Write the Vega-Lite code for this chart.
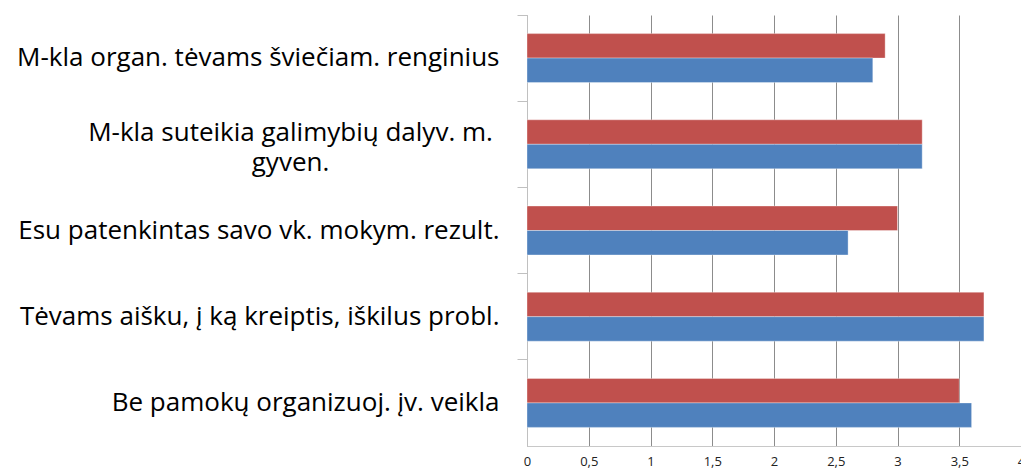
{
  "$schema": "https://vega.github.io/schema/vega-lite/v6.json",
  "width": 494,
  "height": 431,
  "autosize": {"type": "none"},
  "padding": {"left": 527, "top": 15, "right": 0, "bottom": 22},
  "background": "white",
  "config": {"view": {"stroke": null}},
  "data": {"values": [
    {"kategorija": "M-kla organ. tėvams šviečiam. renginius", "serija": "Serija 2", "reiksme": 2.9},
    {"kategorija": "M-kla organ. tėvams šviečiam. renginius", "serija": "Serija 1", "reiksme": 2.8},
    {"kategorija": "M-kla suteikia galimybių dalyv. m. gyven.", "serija": "Serija 2", "reiksme": 3.2},
    {"kategorija": "M-kla suteikia galimybių dalyv. m. gyven.", "serija": "Serija 1", "reiksme": 3.2},
    {"kategorija": "Esu patenkintas savo vk. mokym. rezult.", "serija": "Serija 2", "reiksme": 3.0},
    {"kategorija": "Esu patenkintas savo vk. mokym. rezult.", "serija": "Serija 1", "reiksme": 2.6},
    {"kategorija": "Tėvams aišku, į ką kreiptis, iškilus probl.", "serija": "Serija 2", "reiksme": 3.7},
    {"kategorija": "Tėvams aišku, į ką kreiptis, iškilus probl.", "serija": "Serija 1", "reiksme": 3.7},
    {"kategorija": "Be pamokų organizuoj. įv. veikla", "serija": "Serija 2", "reiksme": 3.5},
    {"kategorija": "Be pamokų organizuoj. įv. veikla", "serija": "Serija 1", "reiksme": 3.6}
  ]},
  "layer": [
    {
      "mark": {"type": "bar", "stroke": "#ffffff", "strokeOpacity": 0.35, "strokeWidth": 1},
      "encoding": {
        "y": {
          "field": "kategorija", "type": "nominal", "sort": null,
          "scale": {"paddingInner": 0, "paddingOuter": 0},
          "axis": {
            "title": null, "orient": "left", "ticks": false, "domain": false,
            "labelPadding": {"condition": {"test": "datum.value == 'M-kla suteikia galimybių dalyv. m. gyven.'", "value": 237}, "value": 28},
            "labelOffset": {"condition": {"test": "datum.value == 'M-kla suteikia galimybių dalyv. m. gyven.'", "value": -11}, "value": 0},
            "labelFont": "Open Sans", "labelFontSize": 26, "labelColor": "#000000",
            "labelLimit": 600, "labelLineHeight": 30,
            "labelExpr": "datum.value == 'M-kla suteikia galimybių dalyv. m. gyven.' ? ['M-kla suteikia galimybių dalyv. m.', 'gyven.'] : datum.label",
            "labelAlign": {"condition": {"test": "datum.value == 'M-kla suteikia galimybių dalyv. m. gyven.'", "value": "center"}, "value": "right"}
          }
        },
        "yOffset": {"field": "serija", "type": "nominal", "sort": ["Serija 2", "Serija 1"], "scale": {"paddingInner": 0, "paddingOuter": 0.76}},
        "x": {
          "field": "reiksme", "type": "quantitative",
          "scale": {"domain": [0, 4], "nice": false},
          "axis": {
            "title": null, "values": [0, 0.5, 1, 1.5, 2, 2.5, 3, 3.5, 4],
            "grid": true, "gridColor": "#8c8c8c", "gridWidth": 1,
            "ticks": false, "domain": true, "domainColor": "#c8c8c8",
            "labelFont": "Open Sans", "labelFontSize": 13, "labelColor": "#222222", "labelPadding": 9,
            "labelFlush": false,
            "labelExpr": "replace(format(datum.value, '~g'), '.', ',')"
          }
        },
        "color": {"field": "serija", "type": "nominal", "scale": {"domain": ["Serija 1", "Serija 2"], "range": ["#4F81BD", "#C0504D"]}, "legend": null}
      }
    },
    {
      "mark": {"type": "tick", "opacity": 0},
      "encoding": {
        "y": {
          "field": "kategorija", "type": "nominal", "sort": null,
          "axis": {
            "title": null, "orient": "left", "labels": false, "bandPosition": 0,
            "ticks": true, "tickSize": 10, "tickColor": "#c0c0c0", "domain": true, "domainColor": "#c0c0c0", "grid": false
          }
        },
        "x": {"field": "reiksme", "type": "quantitative"}
      }
    }
  ],
  "resolve": {"axis": {"y": "independent"}}
}
